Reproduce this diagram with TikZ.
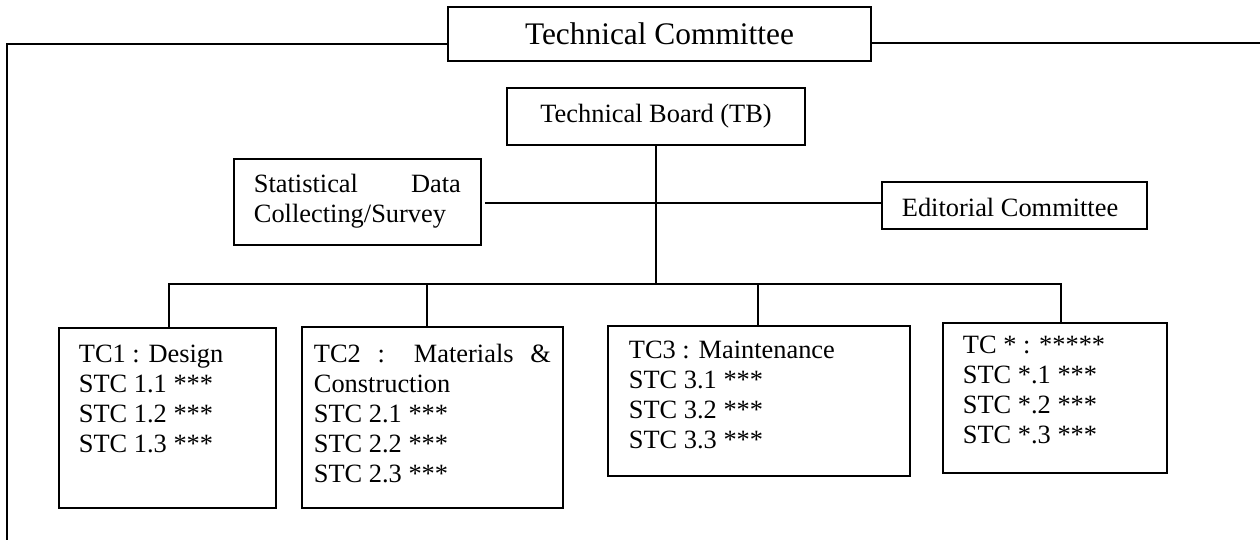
\documentclass[tikz,border=0pt]{standalone}
\usepackage{fontspec}
\setmainfont{Liberation Serif}
\usepackage{tikz}
\newcommand{\bodyfont}{\fontsize{26.4}{30}\selectfont\hyphenpenalty=10000 }
\newcommand{\titlefont}{\fontsize{31.4}{36}\selectfont}
\tikzset{% boxes and lines of the chart
        chart/.style={draw, line width=1.8pt, inner sep=0pt, font=\bodyfont},
        tcbox/.style={chart, anchor=north west, align=justify},
        link/.style={line width=1.8pt}
        }

\begin{document}
\begin{tikzpicture}[x=1pt, y=-1pt]
\useasboundingbox (0,0) rectangle (1260,540);
\node [chart, minimum width=423pt, minimum height=54pt, font=\titlefont] (tc) at (659.5,34) {Technical Committee};
\node [chart, minimum width=298pt, minimum height=57pt] (tb) at (656,116.5) {Technical Board (TB)};
\node [tcbox, text width=207pt, inner xsep=20pt, text height=34pt, text depth=52pt] (stat) at (233,158) {Statistical Data Collecting/Survey};
\node [tcbox, text width=225pt, inner xsep=20pt, text height=35pt, text depth=12pt] (ed) at (881,181) {Editorial Committee};
\node [tcbox, text width=177pt, inner xsep=20pt, text height=35pt, text depth=145pt] (tc1) at (58,327) {TC1 : Design\\STC 1.1 ***\\STC 1.2 ***\\STC 1.3 ***};
\node [tcbox, text width=237pt, inner xsep=12pt, text height=36pt, text depth=145pt] (tc2) at (301,326) {TC2 : Materials \& Construction\\STC 2.1 ***\\STC 2.2 ***\\STC 2.3 ***};
\node [tcbox, text width=260pt, inner xsep=21pt, text height=33pt, text depth=117pt] (tc3) at (607,325) {TC3 : Maintenance\\STC 3.1 ***\\STC 3.2 ***\\STC 3.3 ***};
\node [tcbox, text width=184pt, inner xsep=20pt, text height=31pt, text depth=119pt] (tc4) at (942,322) {TC * : *****\\STC *.1 ***\\STC *.2 ***\\STC *.3 ***};
\coordinate (fl) at (7,44);
\coordinate (fb) at (7,540);
\coordinate (fr) at (1260,43);
\coordinate (hub) at (656,203);
\coordinate (b1) at (169,284);
\coordinate (b2) at (427,284);
\coordinate (b3) at (758,284);
\coordinate (b4) at (1061,284);
\draw [link] (tc.west |- fl) -- (fl) -- (fb);
\draw [link] (tc.east |- fr) -- (fr);
\draw [link] (tb.south) -- (tb.south |- b1);
\draw [link] ([xshift=3pt]stat.east |- hub) -- (ed.west |- hub);
\draw [link] (b1 |- tc1.north) -- (b1) -- (b4) -- (b4 |- tc4.north);
\foreach \b/\t in {b2/tc2, b3/tc3}
  \draw [link] (\b) -- (\b |- \t.north);
\end{tikzpicture}
\end{document}
